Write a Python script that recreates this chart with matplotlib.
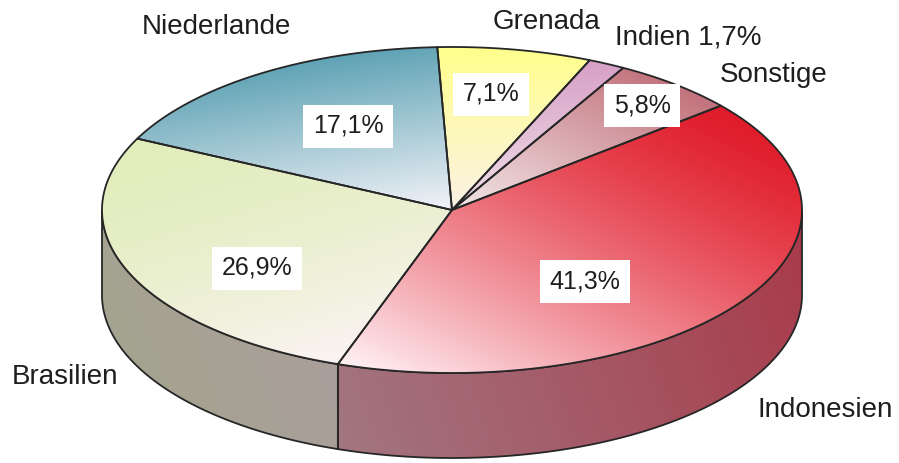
import numpy as np
import matplotlib.pyplot as plt
from matplotlib.path import Path
from matplotlib.patches import PathPatch, Polygon
from matplotlib.colors import to_rgb

plt.rcParams['font.family'] = ['Liberation Sans', 'DejaVu Sans']

# Daten
laender = ['Indonesien', 'Brasilien', 'Niederlande', 'Grenada', 'Indien', 'Sonstige']
anteile = [41.3, 26.9, 17.1, 7.1, 1.7, 5.8]
prozent = ['41,3%', '26,9%', '17,1%', '7,1%', '1,7%', '5,8%']
beschriftung = ['Indonesien', 'Brasilien', 'Niederlande', 'Grenada', 'Indien 1,7%', 'Sonstige']

# Farben (Oberseite: kräftig -> hell), Richtung des Verlaufs in Pixeln
oben_kraeftig = ['#e01c2a', '#e2edbc', '#5fa3b5', '#ffff8c', '#d6a0c6', '#c2727c']
oben_hell = ['#fff2f6', '#fbf4f4', '#f3f3f8', '#fbf1e6', '#f2dfe9', '#f3e8e8']
richtung = [(-0.45, 0.9), (0.3, 1.0), (0.15, 1.0), (0.0, 1.0), (0.0, 1.0), (-0.5, 1.0)]
gamma = [1.3, 1.6, 1.0, 1.0, 1.0, 1.0]
seite_links = {'Indonesien': '#a27680', 'Brasilien': '#a4a490'}
seite_rechts = {'Indonesien': '#a83a4a', 'Brasilien': '#aa9e9a'}

# Layout
W, H = 899, 463
cx, cy = 452, 210
a, b = 350, 163
tiefe = 85
start = 39.8
linie = '#262626'
pos_prozent = [(585, 281), (257, 268), (348, 126), (491, 94), None, (642, 105)]
pos_name = [(825, 410), (65, 377), (216, 27), (546, 22), (688, 37), (774, 75)]

fig = plt.figure(figsize=(W / 100, H / 100), dpi=100)
ax = fig.add_axes([0, 0, 1, 1])


def bogen(t1, t2, dy=0, n=200):
    t = np.radians(np.linspace(t1, t2, n))
    return np.column_stack([cx + a * np.cos(t), cy - b * np.sin(t) + dy])


def verlauf(xy, c0, c1, d, g, z):
    x0, y0 = xy.min(axis=0)
    x1, y1 = xy.max(axis=0)
    gx, gy = np.meshgrid(np.linspace(x0, x1, 300), np.linspace(y0, y1, 200))
    d = np.array(d, float)
    d /= np.hypot(*d)
    proj = xy @ d
    t = np.clip((gx * d[0] + gy * d[1] - proj.min()) / (proj.max() - proj.min()), 0, 1) ** g
    img = np.array(to_rgb(c0)) * (1 - t[..., None]) + np.array(to_rgb(c1)) * t[..., None]
    patch = PathPatch(Path(xy), facecolor='none', edgecolor='none')
    ax.add_patch(patch)
    im = ax.imshow(img, extent=(x0, x1, y1, y0), origin='upper', zorder=z,
                   interpolation='bilinear', aspect='auto')
    im.set_clip_path(patch)
    ax.add_patch(Polygon(xy, closed=True, fill=False, edgecolor=linie, lw=1.3, zorder=z + 0.5))


# Winkel der Segmente (im Uhrzeigersinn)
winkel = np.array(anteile) / sum(anteile) * 360
grenzen = start - np.concatenate([[0], np.cumsum(winkel)])

# Seitenwände (nur vordere Hälfte sichtbar)
for i, name in enumerate(laender):
    s, e = grenzen[i], grenzen[i + 1]
    for k in (-360, 0, 360):
        lo, hi = max(e, -180 + k), min(s, k)
        if hi > lo:
            oben = bogen(lo, hi)
            unten = bogen(hi, lo, dy=tiefe)
            xy = np.vstack([oben, unten])
            verlauf(xy, seite_links[name], seite_rechts[name], (1.0, -0.35), 1.0, 1)

# Oberseite
for i, name in enumerate(laender):
    s, e = grenzen[i], grenzen[i + 1]
    xy = np.vstack([[cx, cy], bogen(s, e)])
    verlauf(xy, oben_kraeftig[i], oben_hell[i], richtung[i], gamma[i], 3)

# Beschriftungen
for i, name in enumerate(laender):
    if pos_prozent[i] is not None:
        ax.text(*pos_prozent[i], prozent[i], ha='center', va='center', fontsize=18,
                color='#1e1e1e', zorder=10,
                bbox=dict(boxstyle='square,pad=0.38', fc='white', ec='none'))
    ax.text(*pos_name[i], beschriftung[i], ha='center', va='center', fontsize=20,
            color='#1e1e1e', zorder=10)

ax.set_xlim(0, W)
ax.set_ylim(H, 0)
ax.axis('off')
fig.savefig('out.png', dpi=100, facecolor='white')
